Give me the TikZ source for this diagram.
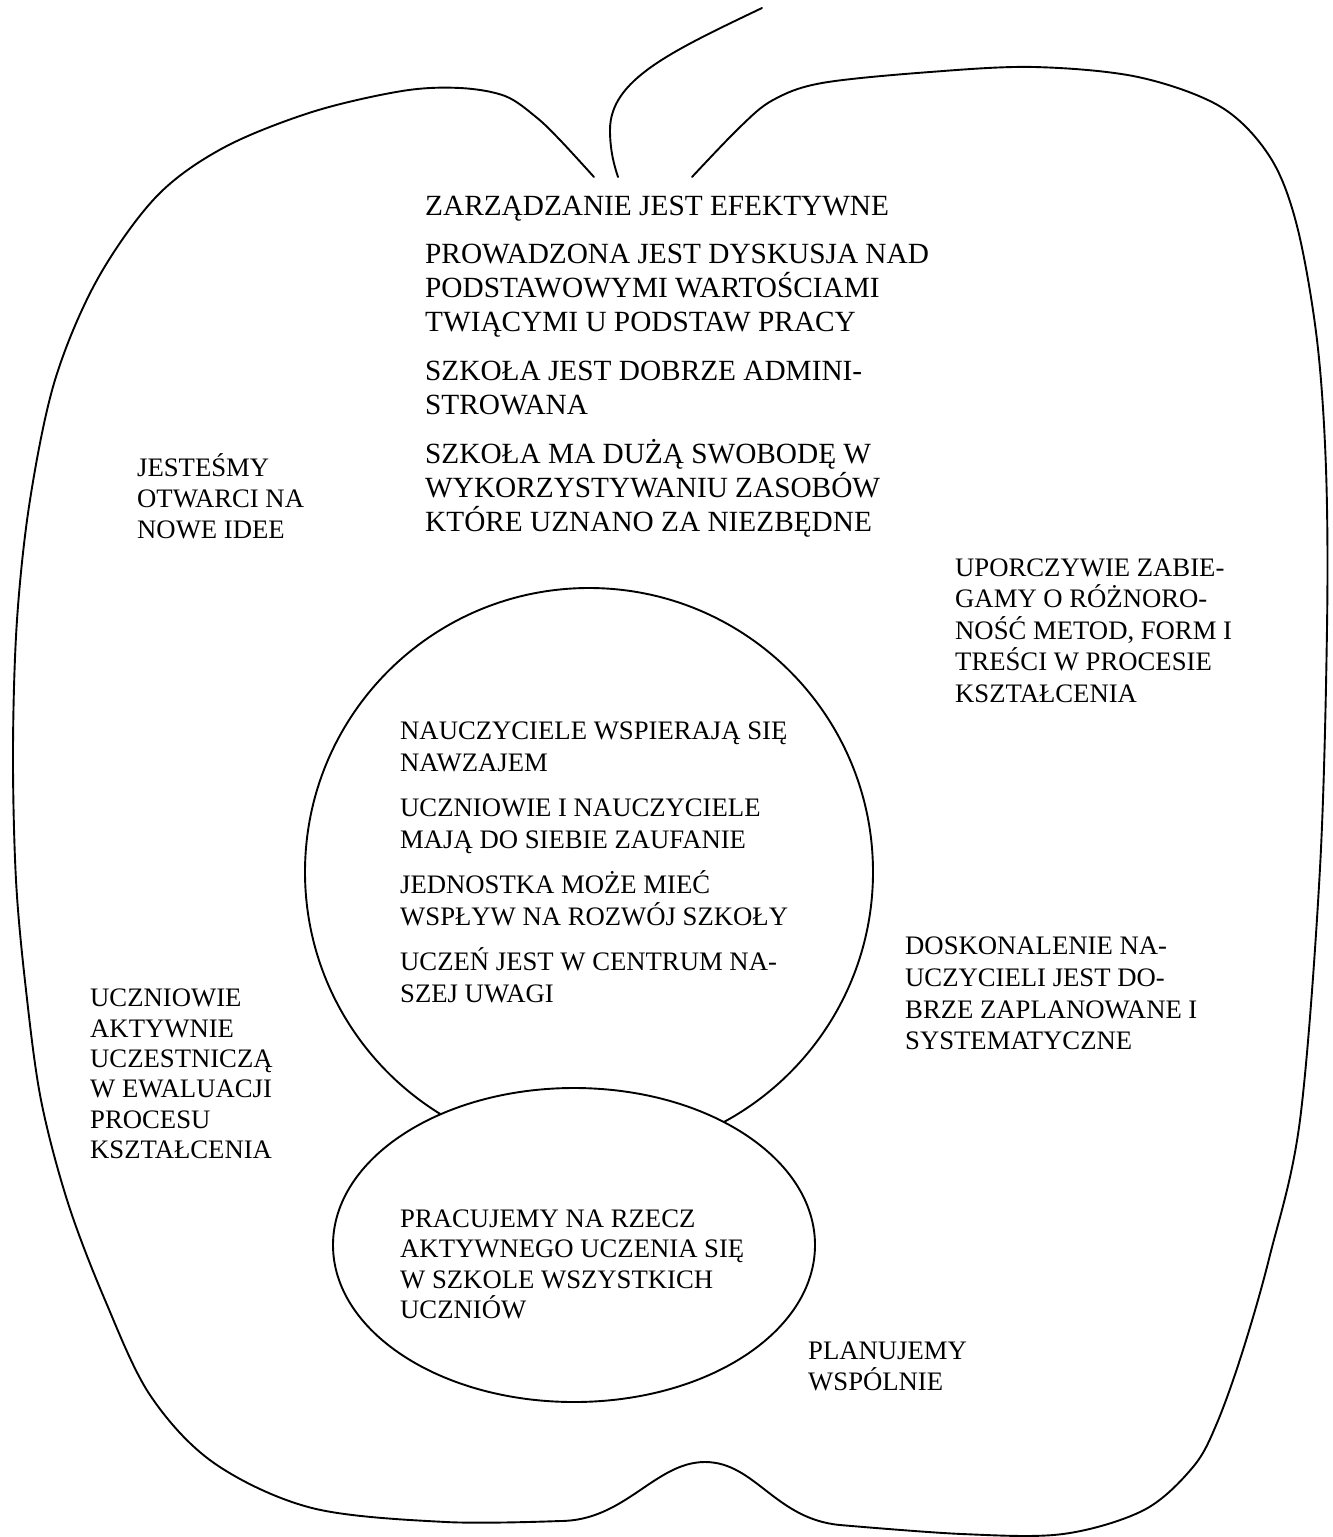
\documentclass[tikz,border=0pt]{standalone}
\usepackage{fontspec}
\setmainfont{Liberation Serif}
\begin{document}
\begin{tikzpicture}[x=1pt,y=-1pt,
  outline/.style={line width=1.9pt, line join=round, line cap=round},
  big/.style={font=\fontsize{29.3}{34}\selectfont, anchor=base west, inner sep=0pt},
  small/.style={font=\fontsize{26.7}{31}\selectfont, anchor=base west, inner sep=0pt}]
\useasboundingbox (0,0) rectangle (1333,1537);
% apple outline: left part
\draw[outline] plot[smooth, tension=0.55] coordinates {
 (594,177) (560,140) (536,117) (505,96) (460,88) (402,91) (312,112) (223,148)
 (156,197) (97,280) (55,380) (30,500) (17,620) (13,750) (16,880) (26,990)
 (41,1100) (68,1203) (105,1300) (150,1395) (214,1463) (312,1508) (446,1522)
 (560,1521)};
% bottom bump
\draw[outline] (560,1521) .. controls (625,1521) and (655,1462) .. (705,1462)
  .. controls (755,1462) and (775,1519) .. (840,1525);
% right part
\draw[outline] plot[smooth, tension=0.55] coordinates {
 (840,1525) (962,1534) (1063,1534) (1144,1510) (1193,1467) (1217,1423) (1243,1350)
 (1270,1255) (1300,1120) (1320,868) (1327,628) (1326,469) (1317,340)
 (1297,226) (1270,157) (1221,107) (1138,77) (1034,67) (930,72) (822,83)
 (773,100) (740,127) (692,177)};
% stem
\draw[outline] (762,8) .. controls (670,52) and (610,80) .. (610,130)
  .. controls (610,150) and (614,165) .. (618,177);
% inner circle and ellipse
\draw[outline] (589,872) circle[radius=284];
\draw[outline, fill=white] (574,1245) ellipse[x radius=241, y radius=157];
% top block
\node[big] (t1) at (425,215) {ZARZĄDZANIE JEST EFEKTYWNE};
\node[big] (t2a) at (425,263) {PROWADZONA JEST DYSKUSJA NAD};
\node[big] (t2b) at (425,297) {PODSTAWOWYMI WARTOŚCIAMI};
\node[big] (t2c) at (425,331) {TWIĄCYMI U PODSTAW PRACY};
\node[big] (t3a) at (425,380) {SZKOŁA JEST DOBRZE ADMINI-};
\node[big] (t3b) at (425,414) {STROWANA};
\node[big] (t4a) at (425,463) {SZKOŁA MA DUŻĄ SWOBODĘ W};
\node[big] (t4b) at (425,497) {WYKORZYSTYWANIU ZASOBÓW};
\node[big] (t4c) at (425,531) {KTÓRE UZNANO ZA NIEZBĘDNE};
% left upper
\node[small] (l1a) at (137,476) {JESTEŚMY};
\node[small] (l1b) at (137,507) {OTWARCI NA};
\node[small] (l1c) at (137,538) {NOWE IDEE};
% right upper
\node[small] (r1a) at (955,576) {UPORCZYWIE ZABIE-};
\node[small] (r1b) at (955,607) {GAMY O RÓŻNORO-};
\node[small] (r1c) at (955,639) {NOŚĆ METOD, FORM I};
\node[small] (r1d) at (955,670) {TREŚCI W PROCESIE};
\node[small] (r1e) at (955,702) {KSZTAŁCENIA};
% circle text
\node[small] (c1a) at (400,739) {NAUCZYCIELE WSPIERAJĄ SIĘ};
\node[small] (c1b) at (400,771) {NAWZAJEM};
\node[small] (c2a) at (400,816) {UCZNIOWIE I NAUCZYCIELE};
\node[small] (c2b) at (400,848) {MAJĄ DO SIEBIE ZAUFANIE};
\node[small] (c3a) at (400,893) {JEDNOSTKA MOŻE MIEĆ};
\node[small] (c3b) at (400,925) {WSPŁYW NA ROZWÓJ SZKOŁY};
\node[small] (c4a) at (400,970) {UCZEŃ JEST W CENTRUM NA-};
\node[small] (c4b) at (400,1002) {SZEJ UWAGI};
% right lower
\node[small] (r2a) at (905,954) {DOSKONALENIE NA-};
\node[small] (r2b) at (905,986) {UCZYCIELI JEST DO-};
\node[small] (r2c) at (905,1018) {BRZE ZAPLANOWANE I};
\node[small] (r2d) at (905,1049) {SYSTEMATYCZNE};
% left lower
\node[small] (l2a) at (90,1006) {UCZNIOWIE};
\node[small] (l2b) at (90,1037) {AKTYWNIE};
\node[small] (l2c) at (90,1067) {UCZESTNICZĄ};
\node[small] (l2d) at (90,1097) {W EWALUACJI};
\node[small] (l2e) at (90,1128) {PROCESU};
\node[small] (l2f) at (90,1158) {KSZTAŁCENIA};
% ellipse text
\node[small] (e1a) at (400,1227) {PRACUJEMY NA RZECZ};
\node[small] (e1b) at (400,1257) {AKTYWNEGO UCZENIA SIĘ};
\node[small] (e1c) at (400,1288) {W SZKOLE WSZYSTKICH};
\node[small] (e1d) at (400,1318) {UCZNIÓW};
% bottom right
\node[small] (p1a) at (808,1359) {PLANUJEMY};
\node[small] (p1b) at (808,1390) {WSPÓLNIE};
\end{tikzpicture}
\end{document}
